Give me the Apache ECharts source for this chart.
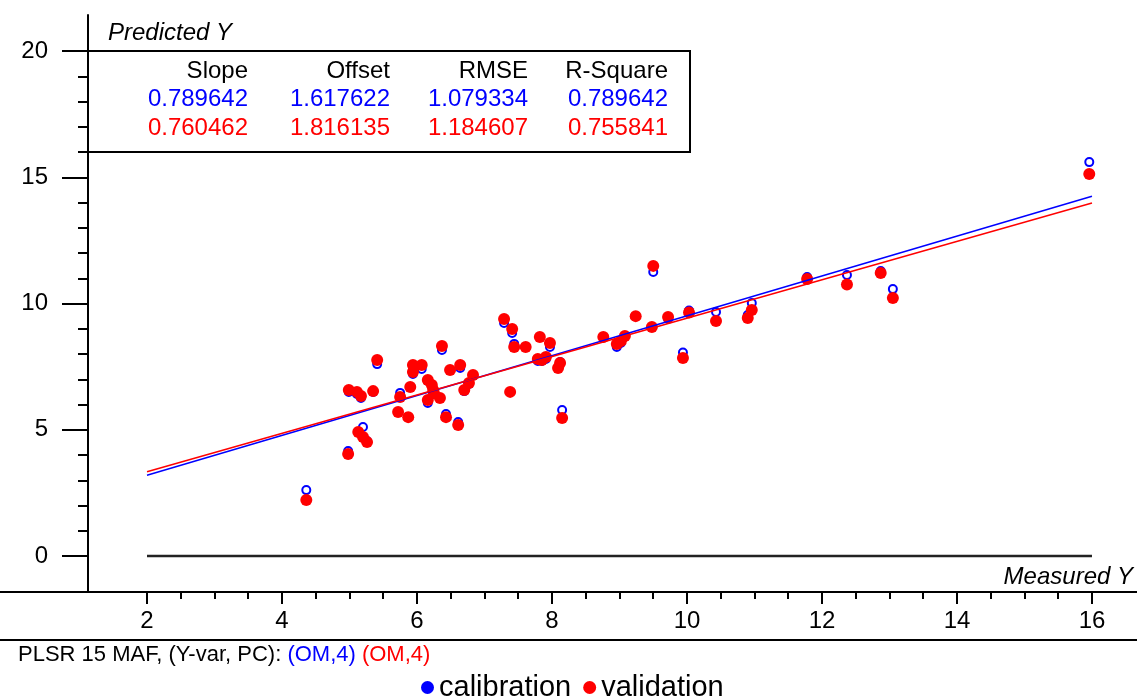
<!DOCTYPE html>
<html>
<head>
<meta charset="utf-8">
<title>PLSR predicted vs measured</title>
<script src="https://cdn.jsdelivr.net/npm/echarts@6/dist/echarts.min.js"></script>
<style>
  html, body { margin: 0; padding: 0; background: #fff; }
  #chart { width: 1137px; height: 700px; }
</style>
</head>
<body>
<div id="chart"></div>
<script>
// measured Y for each sample, with calibration / validation predictions
const measured = [4.36, 4.98, 4.99, 5.11, 5.17, 5.35, 5.41, 5.13, 5.20, 5.26, 5.72, 5.87, 5.75, 5.90, 5.94, 6.07,
  5.94, 6.37, 6.16, 6.22, 6.24, 6.25, 6.16, 6.34, 6.49, 6.64, 6.43, 6.61, 6.83, 6.77, 6.70, 7.38, 7.29, 7.41,
  7.44, 7.61, 7.82, 7.97, 7.79, 7.91, 7.85, 8.12, 8.09, 8.15, 8.76, 8.96, 9.02, 9.08, 9.24, 9.48, 9.50, 9.72,
  9.94, 10.03, 10.43, 10.90, 10.96, 11.78, 12.37, 12.87, 13.05, 15.96]
const calPred = [2.61, 4.16, 6.50, 6.42, 6.26, 6.50, 7.60, 4.91, 5.11, 4.55, 5.70, 5.50, 6.46, 6.69, 7.49, 7.41,
  7.21, 8.16, 6.93, 6.73, 6.53, 6.42, 6.06, 6.26, 7.37, 7.45, 5.62, 5.31, 7.17, 6.81, 6.53, 6.50, 9.23, 8.83,
  8.40, 8.28, 8.67, 8.28, 7.72, 7.80, 7.72, 7.68, 7.45, 5.78, 8.67, 8.28, 8.44, 8.71, 9.50, 9.07, 11.25, 9.39,
  8.06, 9.72, 9.66, 9.54, 10.02, 11.05, 11.13, 11.29, 10.57, 15.60]
const valPred = [2.22, 4.04, 6.57, 6.50, 6.34, 6.53, 7.76, 4.91, 4.71, 4.51, 5.70, 5.50, 6.30, 6.69, 7.56, 7.56,
  7.29, 8.32, 6.97, 6.77, 6.57, 6.46, 6.18, 6.26, 7.37, 7.56, 5.50, 5.19, 7.17, 6.85, 6.57, 6.50, 9.39, 8.99,
  8.28, 8.28, 8.67, 8.44, 7.80, 7.88, 7.76, 7.64, 7.45, 5.47, 8.67, 8.40, 8.51, 8.71, 9.50, 9.07, 11.49, 9.47,
  7.84, 9.64, 9.31, 9.43, 9.74, 10.97, 10.75, 11.21, 10.22, 15.13]

// fitted lines and zero reference line (end points)
const calLine = [[2, 3.20], [16, 14.25]]
const valLine = [[2, 3.34], [16, 13.98]]
const zeroLine = [[2, 0], [16, 0]]

// stats table
const statNames = ['Slope', 'Offset', 'RMSE', 'R-Square']
const calStats = ['0.789642', '1.617622', '1.079334', '0.789642']
const valStats = ['0.760462', '1.816135', '1.184607', '0.755841']

// ticks
const xLabels = [2, 4, 6, 8, 10, 12, 14, 16]
const xMinorTicks = [2.5, 3, 3.5, 4.5, 5, 5.5, 6.5, 7, 7.5, 8.5, 9, 9.5, 10.5, 11, 11.5, 12.5, 13, 13.5, 14.5, 15, 15.5]
const yLabels = [0, 5, 10, 15, 20]
const yMinorTicks = [1, 2, 3, 4, 6, 7, 8, 9, 11, 12, 13, 14, 16, 17, 18, 19]

const FONT = '"Liberation Sans", Arial, sans-serif'
const BLUE = '#0000ff'
const RED = '#ff0000'

const chart = echarts.init(document.getElementById('chart'))

const colX = [248, 390, 528, 668]
const rowY = [71, 99, 128]
const tableText = []
;[statNames, calStats, valStats].forEach((row, r) => {
  row.forEach((t, c) => {
    tableText.push({
      type: 'text',
      x: colX[c],
      y: rowY[r],
      style: {
        text: t,
        fill: r === 0 ? '#000' : (r === 1 ? BLUE : RED),
        font: '24px ' + FONT,
        align: 'right',
        verticalAlign: 'middle',
      },
    })
  })
})

const axisCommon = {
  type: 'value',
  splitLine: { show: false },
}

const option = {
  backgroundColor: '#fff',
  animation: false,
  textStyle: { fontFamily: FONT },
  grid: { left: 88, right: 0, top: 15, bottom: 108, outerBoundsMode: 'none' },
  xAxis: [
    Object.assign({}, axisCommon, {
      min: 1.1259, max: 16.667,
      position: 'bottom',
      name: 'Measured Y',
      nameLocation: 'end',
      nameGap: -4,
      nameTextStyle: { color: '#000', fontSize: 24, fontStyle: 'italic', align: 'right', verticalAlign: 'bottom', padding: [0, 0, 3, 0] },
      axisLine: { show: true, onZero: false, lineStyle: { color: '#000', width: 2 } },
      axisTick: { show: true, customValues: xLabels, length: 12, lineStyle: { color: '#000', width: 2 } },
      axisLabel: { customValues: xLabels, color: '#000', fontSize: 24, margin: 17 },
    }),
    Object.assign({}, axisCommon, {
      min: 1.1259, max: 16.667,
      position: 'bottom',
      offset: 0,
      axisLine: { show: false, onZero: false },
      axisTick: { show: true, customValues: xMinorTicks, length: 7, lineStyle: { color: '#000', width: 2 } },
      axisLabel: { show: false },
    }),
  ],
  yAxis: [
    Object.assign({}, axisCommon, {
      min: -1.4257, max: 21.426,
      position: 'left',
      name: 'Predicted Y',
      nameLocation: 'end',
      nameGap: -18,
      nameTextStyle: { color: '#000', fontSize: 24, fontStyle: 'italic', align: 'left', verticalAlign: 'middle', padding: [0, 0, 0, 20] },
      axisLine: { show: true, onZero: false, lineStyle: { color: '#000', width: 2 } },
      axisTick: { show: true, customValues: yLabels, length: 26, lineStyle: { color: '#000', width: 2 } },
      axisLabel: { customValues: yLabels, color: '#000', fontSize: 24, margin: 40 },
    }),
    Object.assign({}, axisCommon, {
      min: -1.4257, max: 21.426,
      position: 'left',
      offset: 0,
      axisLine: { show: false, onZero: false },
      axisTick: { show: true, customValues: yMinorTicks, length: 10, lineStyle: { color: '#000', width: 2 } },
      axisLabel: { show: false },
    }),
  ],
  legend: {
    left: 416,
    top: 668,
    itemWidth: 13,
    itemHeight: 13,
    itemGap: 12,
    textStyle: { color: '#000', fontSize: 29, fontFamily: FONT },
    data: [
      { name: 'calibration', icon: 'circle', itemStyle: { color: BLUE, borderWidth: 0, opacity: 1 } },
      { name: 'validation', icon: 'circle', itemStyle: { color: RED, borderWidth: 0, opacity: 1 } },
    ],
  },
  graphic: [
    { type: 'line', shape: { x1: 0, y1: 592, x2: 89, y2: 592 }, style: { stroke: '#000', lineWidth: 2 } },
    { type: 'line', shape: { x1: 0, y1: 640, x2: 1137, y2: 640 }, style: { stroke: '#000', lineWidth: 2 } },
    { type: 'polyline', shape: { points: [[88, 51], [690, 51], [690, 152], [88, 152]] }, style: { stroke: '#000', lineWidth: 2, fill: null } },
    ...tableText,
    {
      type: 'text',
      x: 18,
      y: 655,
      style: {
        text: '{k|PLSR 15 MAF, (Y-var, PC): }{b|(OM,4)} {r|(OM,4)}',
        font: '22px ' + FONT,
        verticalAlign: 'middle',
        rich: {
          k: { fill: '#000', font: '22px ' + FONT },
          b: { fill: BLUE, font: '22px ' + FONT },
          r: { fill: RED, font: '22px ' + FONT },
        },
      },
    },
  ],
  series: [
    {
      type: 'line', data: zeroLine, symbol: 'none', silent: true,
      lineStyle: { color: '#222', width: 2.5 },
    },
    {
      type: 'line', data: calLine, symbol: 'none', silent: true,
      lineStyle: { color: BLUE, width: 1.5 },
    },
    {
      type: 'line', data: valLine, symbol: 'none', silent: true,
      lineStyle: { color: RED, width: 1.5 },
    },
    {
      name: 'calibration',
      type: 'scatter',
      symbol: 'circle',
      symbolSize: 8,
      data: measured.map((m, i) => [m, calPred[i]]),
      itemStyle: { color: '#fff', borderColor: BLUE, borderWidth: 2, opacity: 1 },
    },
    {
      name: 'validation',
      type: 'scatter',
      symbol: 'circle',
      symbolSize: 12,
      data: measured.map((m, i) => [m, valPred[i]]),
      itemStyle: { color: RED, borderWidth: 0, opacity: 1 },
    },
  ],
}

chart.setOption(option)
window.addEventListener('resize', () => chart.resize())
</script>
</body>
</html>
